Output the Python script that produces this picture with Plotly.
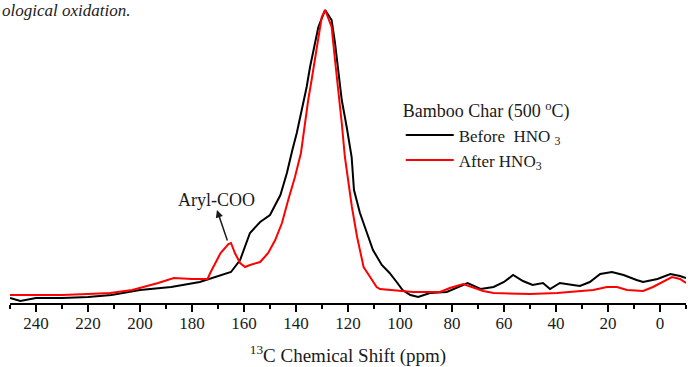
import plotly.graph_objects as go

# ---- data (ppm, intensity in a.u.) ----
before_ppm = [250, 246, 240, 230, 220, 211, 200, 188, 177, 171, 165, 161.5, 157.7, 153.8, 150, 146,
              143.5, 141.4, 139.7, 137.8, 135.9, 134.6, 133.3, 131.4, 128.8, 126.3, 125, 123.7, 122.4,
              120.5, 118.6, 117.7, 115.4, 112.7, 110.4, 107, 104, 101, 99, 96, 93, 88.5, 82, 74, 69,
              64, 60, 56.5, 52.7, 49, 45, 42.3, 38.5, 33.5, 30.8, 27, 23, 18.5, 14, 9, 6.5, 1, -4,
              -7.7, -10]
before_int = [5, 2, 5, 5, 6, 8, 13, 16, 21, 26, 31, 43, 70, 81, 88, 108,
              130, 153, 170, 193, 216, 236, 253, 276, 293, 283, 260, 230, 203,
              176, 146, 113, 90, 70, 53, 38, 30, 20, 13, 8, 6, 10, 11, 20, 14,
              16, 21, 28, 22, 18, 20, 14, 20, 18, 17, 21, 29, 31, 28, 23, 21, 24, 29,
              27, 25]

after_ppm = [250, 240, 230, 220, 211.5, 203, 193, 187, 180, 174, 173, 170, 169, 166, 165, 163.5,
             161.5, 159.6, 157.7, 153.8, 150.7, 148, 145.4, 143, 140.4, 138.1, 136.5, 135.3,
             134, 132.7, 131.4, 130.1, 128.8, 126.3, 125, 123.7, 122.4, 121.2, 120.4, 118.5, 116.5,
             114, 111.5, 109, 107.7, 100, 95, 84.6, 80.8, 75.7, 72, 68, 64, 50, 39.6, 25.7, 20.4,
             16.5, 12.7, 6.5, 2.7, -1, -4.6, -7.7, -10]
after_int = [8, 8, 8, 9, 10, 13, 20, 25, 24, 24, 30, 45, 50, 59, 60, 50,
             40, 36, 38, 41, 50, 63, 80, 103, 126, 150, 183, 203,
             223, 243, 266, 286, 293, 276, 243, 213, 180, 146, 130, 96, 66,
             36, 26, 16, 14, 12, 11, 11, 15, 19, 16, 12, 10, 9, 10, 13, 16,
             16, 13, 12, 16, 21, 26, 24, 20]

series_names = ["Before  HNO <sub>3</sub>", "After HNO<sub>3</sub>"]
series_colors = ["#000000", "#ff0000"]

FONT = "Liberation Serif"
TXT = "#1a1a1a"

fig = go.Figure()
fig.add_trace(go.Scatter(x=before_ppm, y=before_int, mode="lines", name=series_names[0],
                         line=dict(color=series_colors[0], width=2)))
fig.add_trace(go.Scatter(x=after_ppm, y=after_int, mode="lines", name=series_names[1],
                         line=dict(color=series_colors[1], width=2)))

# Aryl-COO label and arrow
fig.add_annotation(x=170.4, y=103, xref="x", yref="y", text="Aryl-COO", showarrow=False,
                   font=dict(family=FONT, size=18, color=TXT))
fig.add_annotation(x=170.4, y=93, xref="x", yref="y", ax=166.2, ay=61, axref="x", ayref="y",
                   text="", showarrow=True, arrowhead=2, arrowsize=1, arrowwidth=1.5,
                   arrowcolor=TXT)

# caption fragment at top
fig.add_annotation(x=0, y=1.0, xref="paper", yref="paper", xanchor="left", yanchor="top",
                   xshift=-10, yshift=1, text="<i>ological oxidation.</i>", showarrow=False,
                   font=dict(family=FONT, size=17, color=TXT))

fig.update_layout(
    width=688, height=367,
    margin=dict(l=10, r=2, t=0, b=64),
    paper_bgcolor="white", plot_bgcolor="white",
    font=dict(family=FONT, size=18, color=TXT),
    showlegend=True,
    legend=dict(x=0.578, y=0.69, xanchor="left", yanchor="top",
                title=dict(text="Bamboo Char (500 <sup>o</sup>C)", font=dict(family=FONT, size=18)),
                font=dict(family=FONT, size=17, color=TXT),
                bgcolor="rgba(0,0,0,0)", itemwidth=48, tracegroupgap=0),
    xaxis=dict(range=[250, -10], showgrid=False, zeroline=False,
               showline=True, linecolor="black", linewidth=2,
               ticks="outside", ticklen=7, tickwidth=2, tickcolor="black",
               tick0=0, dtick=20, ticklabelstandoff=-3,
               minor=dict(dtick=10, ticks="outside", ticklen=4, tickwidth=2, tickcolor="black"),
               tickfont=dict(family=FONT, size=17, color=TXT),
               title=dict(text="<sup>13</sup>C Chemical Shift (ppm)", standoff=16,
                          font=dict(family=FONT, size=19, color=TXT))),
    yaxis=dict(range=[0, 303], visible=False, showgrid=False, zeroline=False),
)

fig.write_html("out.html")
